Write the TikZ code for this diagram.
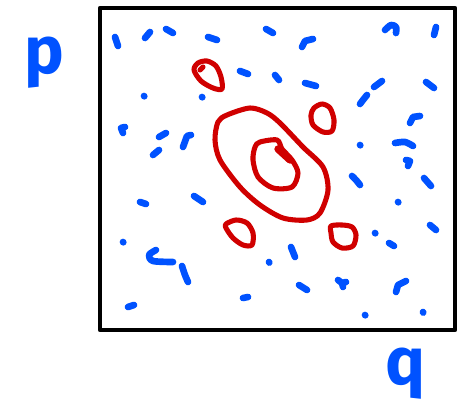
\documentclass[tikz,border=0pt]{standalone}
\usepackage{fontspec}
\setmainfont{Fira Sans}
\definecolor{inkblue}{RGB}{0,82,255}
\definecolor{inkred}{RGB}{208,0,0}
\begin{document}
\begin{tikzpicture}[x=0.75pt,y=-0.75pt,
  dot/.style={inkblue,line width=5pt,line cap=round,line join=round},
  loop/.style={inkred,line width=3.8pt,line cap=round,line join=round},
  lbl/.style={inkblue,font=\fontsize{50}{50}\selectfont\bfseries,inner sep=0pt,anchor=base}]
\useasboundingbox (0,0) rectangle (457,413);
% frame
\draw[line width=3.4pt,line join=round] (100,8) rectangle (455,330);
% axis labels
\node[lbl] (p) at (44,74) {p};
\node[lbl] (q) at (405,384) {q};
% blue dashes
\draw[dot] (115,37) -- (118,46);
\draw[dot] (145,38) -- (150,32);
\draw[dot] (166,29) -- (173,33);
\draw[dot] (208,37) -- (217,40);
\draw[dot] (144,96) -- (144.3,96.3);
\draw[dot] (202,97) -- (202.3,97.3);
\draw[dot] (123,133) -- (121,128) -- (125,127);
\draw[dot] (159,137) -- (166,133);
\draw[dot] (183,147) -- (187,136) -- (191,135);
\draw[dot] (153,155) -- (159,150);
\draw[dot] (140,202) -- (146,204);
\draw[dot] (194,196) -- (203,202);
\draw[dot] (266,29) -- (273,33);
\draw[dot] (302,47) -- (305,41) -- (313,39);
\draw[dot] plot[smooth] coordinates {(385,30) (391,25) (396,27) (396,33)};
\draw[dot] (436,27) -- (434,35);
\draw[dot] (240,71) -- (248,74);
\draw[dot] (275,75) -- (279,80);
\draw[dot] (305,83) -- (316,86);
\draw[dot] (374,87) -- (382,81);
\draw[dot] plot[smooth] coordinates {(360,104) (363,100) (367,95)};
\draw[dot] (426,82) -- (434,88);
\draw[dot] (410,123) -- (413,117) -- (420,116);
\draw[dot] (360,145) -- (360.3,145.3);
\draw[dot] plot[smooth] coordinates {(395,143) (405,142) (413,146)};
\draw[dot] (406,160) -- (410,161) -- (408,166);
\draw[dot] plot[smooth] coordinates {(352,176) (356,180) (360,185)};
\draw[dot] (424,178) -- (431,186);
\draw[dot] (398,202) -- (398.3,202.3);
\draw[dot] (123,242) -- (123.3,242.3);
\draw[dot] plot[smooth] coordinates {(156,250) (149,255) (153,261) (173,262)};
\draw[dot] plot[smooth] coordinates {(182,266) (185,275) (188,282)};
\draw[dot] (128,307) -- (134,305);
\draw[dot] (430,225) -- (436,230);
\draw[dot] (375,233) -- (375.3,233.3);
\draw[dot] (389,243) -- (394,246);
\draw[dot] (291,247) -- (295,257);
\draw[dot] (269,262) -- (269.3,262.6);
\draw[dot] (299,285) -- (307,290);
\draw[dot] (338,280) -- (342,283) -- (346,282);
\draw[dot] (342,283) -- (343,287);
\draw[dot] (396,292) -- (398,285) -- (406,281);
\draw[dot] (243,298) -- (248,297);
\draw[dot] (365,315) -- (365.3,315.3);
\draw[dot] (423,312) -- (423.2,312.6);
% red contours
\draw[loop] plot[smooth cycle] coordinates {(194,70) (198,63) (207,61) (216,66) (221,77) (222,89) (213,88) (201,81)};
\draw[loop] (200,70) -- (203,67);
\draw[loop] plot[smooth cycle] coordinates {(314,108) (322,104) (330,108) (334,120) (332,131) (323,132) (313,125) (311,115)};
\draw[loop] plot[smooth cycle] coordinates {(218,122) (227,115) (250,108) (267,113) (280,123) (303,147) (323,167) (328,190) (320,213) (307,220) (283,218) (260,205) (240,187) (220,160) (215,140)};
\draw[loop] plot[smooth cycle] coordinates {(255,147) (260,142) (277,140) (282,149) (292,160) (298,173) (292,187) (273,188) (258,177) (253,160)};
\draw[loop,line width=5.5pt] (278,149) -- (290,160);
\draw[loop] plot[smooth cycle] coordinates {(226,224) (236,220) (247,223) (253,233) (252,245) (243,245) (233,238) (226,228)};
\draw[loop] plot[smooth cycle] coordinates {(331,226) (342,225) (352,227) (356,235) (353,246) (342,248) (333,242) (331,233)};
\end{tikzpicture}
\end{document}
